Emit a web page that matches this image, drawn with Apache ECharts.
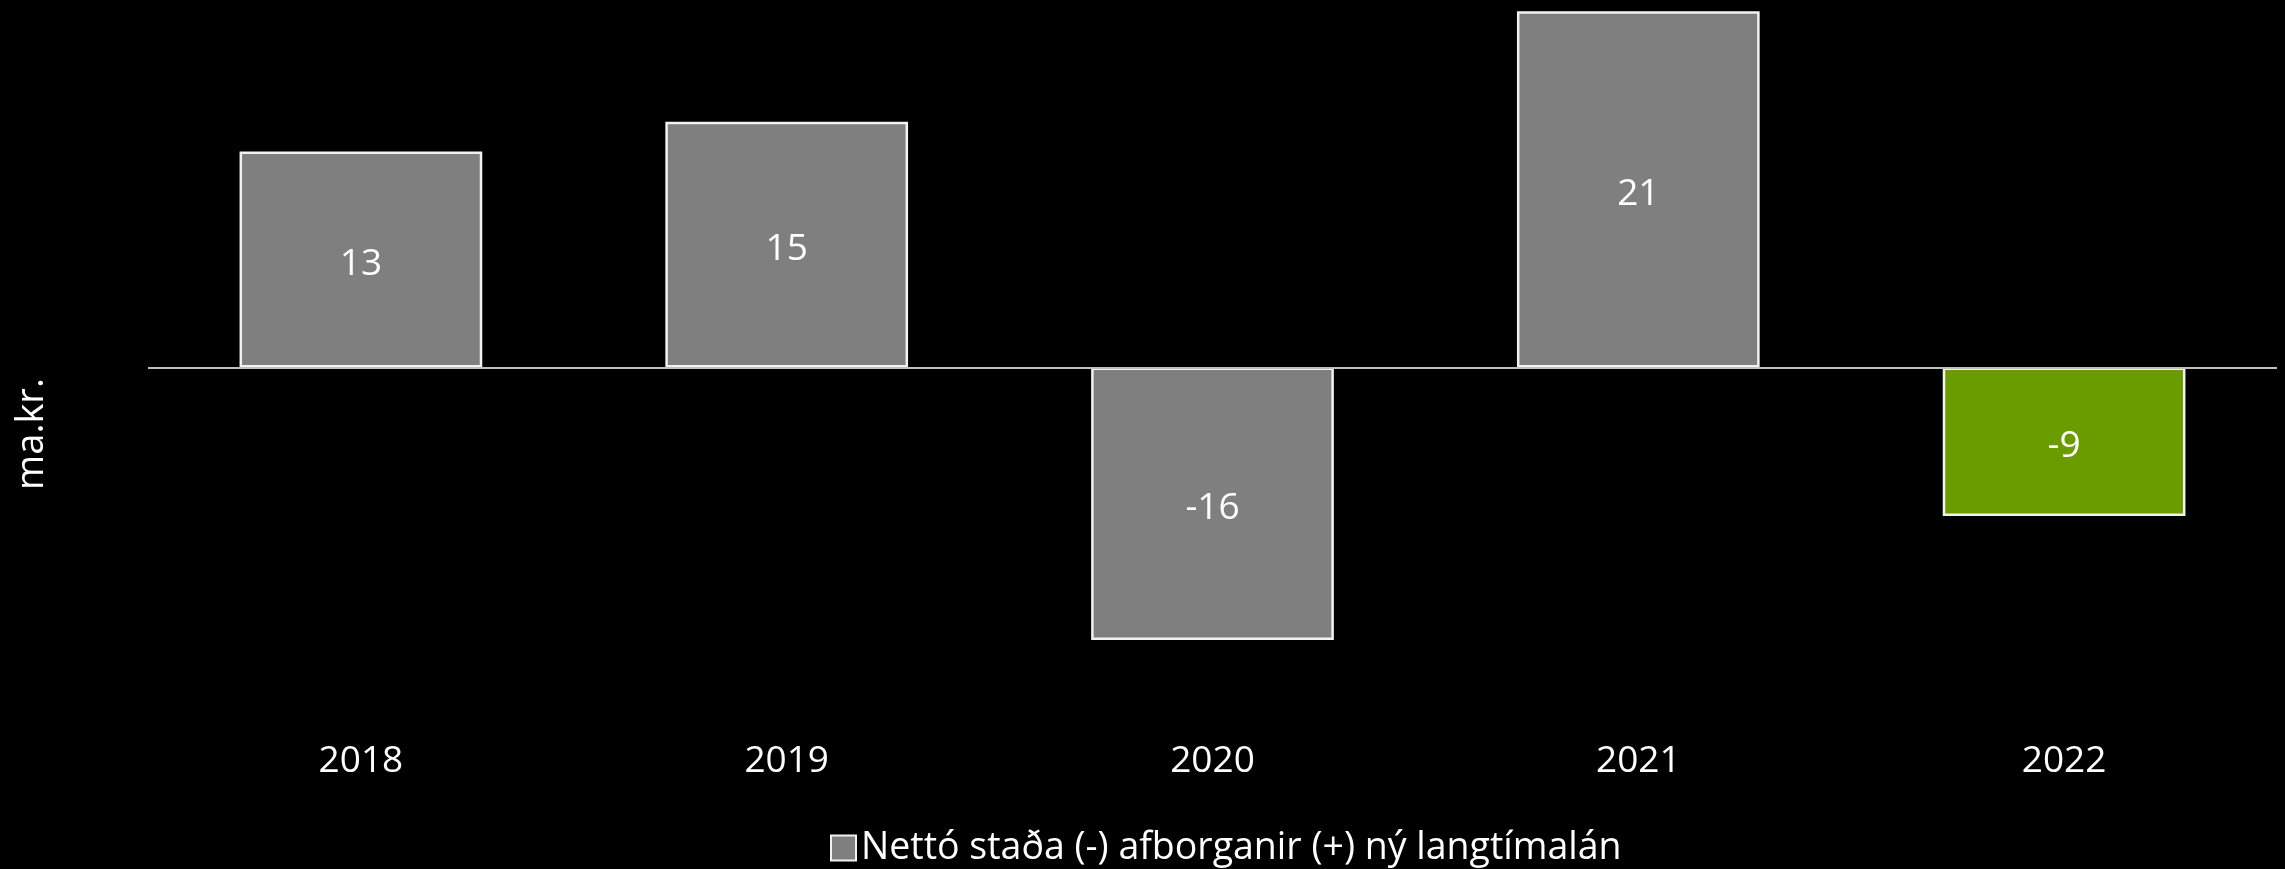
<!DOCTYPE html>
<html>
<head>
<meta charset="utf-8">
<script src="https://cdn.jsdelivr.net/npm/echarts@6/dist/echarts.min.js"></script>
<style>
  html, body { margin: 0; padding: 0; background: #000; }
  #chart { width: 2285px; height: 869px; }
</style>
</head>
<body>
<div id="chart"></div>
<script>
const years = ['2018', '2019', '2020', '2021', '2022']
const netValues = [12.85, 14.63, -16.22, 21.2, -8.84]
const seriesName = 'Nettó staða (-) afborganir (+) ný langtímalán'
const unitName = 'ma.kr.'

const font = 'Open Sans'
const grey = '#7f7f7f'
const green = '#6a9c00'

const chart = echarts.init(document.getElementById('chart'))

chart.setOption({
  backgroundColor: '#000000',
  animation: false,
  textStyle: { fontFamily: font },
  grid: {
    left: 148,
    right: 8,
    top: 0,
    bottom: 148.7
  },
  graphic: [{
    type: 'text',
    x: 32,
    y: 434,
    rotation: Math.PI / 2,
    style: {
      text: unitName,
      fill: '#ffffff',
      font: '38px "Open Sans"',
      textAlign: 'center',
      textVerticalAlign: 'middle'
    }
  }],
  legend: {
    left: 825,
    top: 824,
    itemWidth: 25,
    itemHeight: 25,
    itemGap: 12,
    icon: 'rect',
    textStyle: { color: '#ffffff', fontSize: 37.5, fontFamily: font },
    data: [seriesName]
  },
  xAxis: {
    type: 'category',
    data: years,
    axisLine: { show: false, onZero: false },
    axisTick: { show: false },
    axisLabel: { color: '#ffffff', fontSize: 37, margin: 23 }
  },
  yAxis: {
    type: 'value',
    show: false,
    min: -21,
    max: 21.875,
    splitLine: { show: false }
  },
  series: [{
    name: seriesName,
    type: 'bar',
    data: netValues.map((v, i) => ({
      value: v,
      itemStyle: i === netValues.length - 1 ? { color: green } : undefined
    })),
    barCategoryGap: '43%',
    itemStyle: {
      color: grey,
      borderColor: '#f2f2f2',
      borderWidth: 2.5
    },
    label: {
      show: true,
      position: 'inside',
      offset: [0, 5],
      color: '#ffffff',
      fontSize: 37,
      formatter: p => Math.round(p.value)
    },
    markLine: {
      silent: true,
      symbol: 'none',
      label: { show: false },
      lineStyle: { color: '#bfbfbf', width: 2, type: 'solid' },
      data: [{ yAxis: 0 }]
    }
  }]
})
</script>
</body>
</html>
